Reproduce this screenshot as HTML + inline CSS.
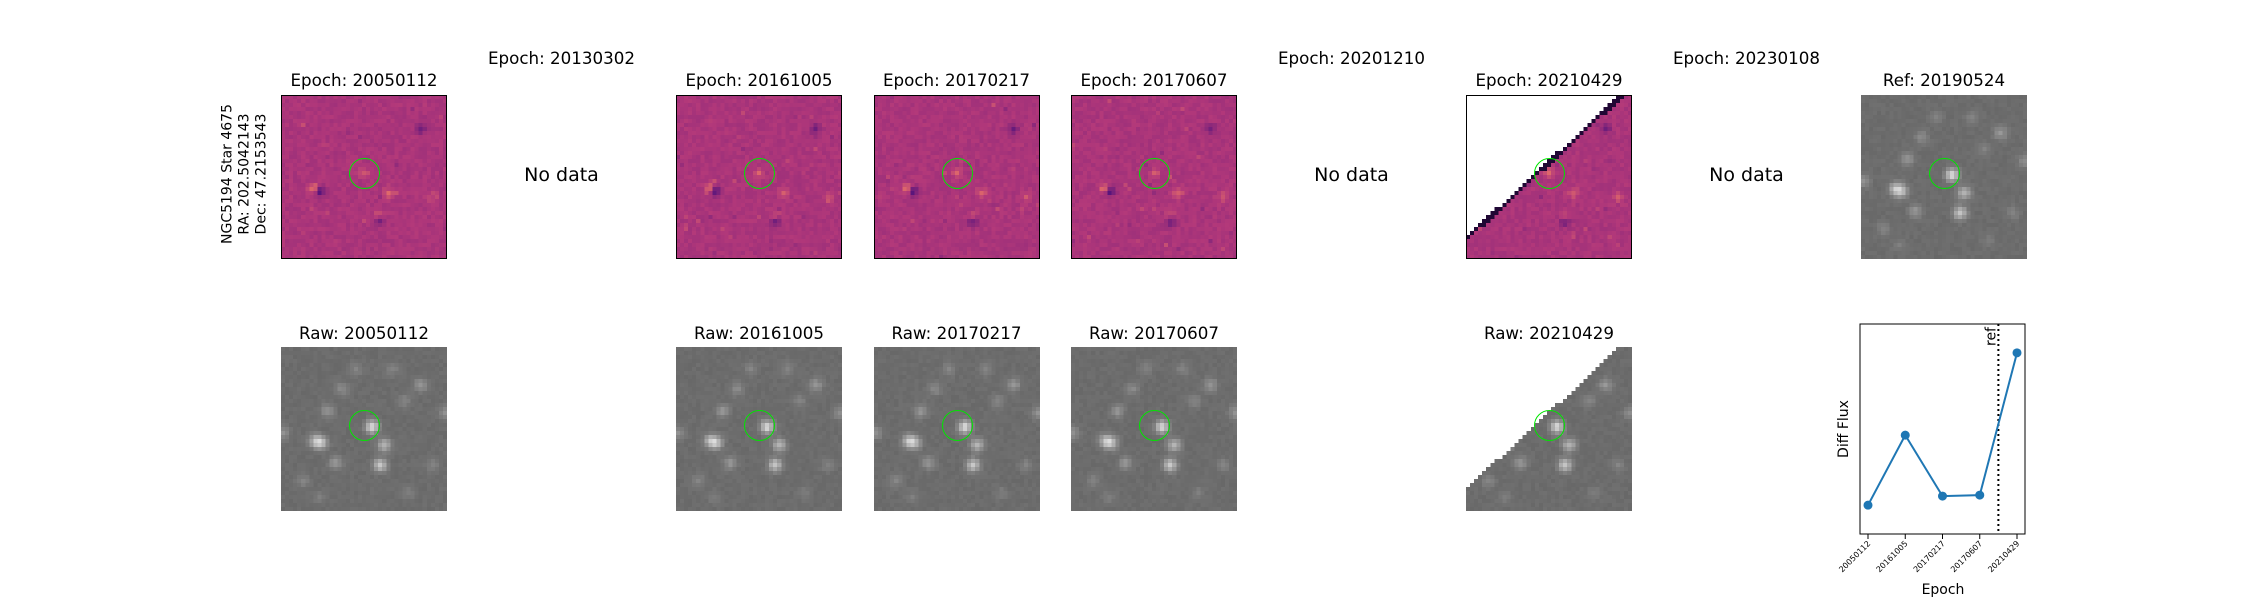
<!DOCTYPE html>
<html><head><meta charset="utf-8">
<style>
html,body{margin:0;padding:0;background:#fff;}
#root{position:relative;width:2250px;height:600px;overflow:hidden;font-family:"DejaVu Sans","Liberation Sans",sans-serif;color:#000;}
.t{position:absolute;font-size:16.7px;line-height:20px;white-space:nowrap;transform:translateX(-50%);}
.nd{position:absolute;font-size:19px;white-space:nowrap;transform:translate(-50%,-50%);}
.img{position:absolute;width:166px;height:164px;}
.img canvas{width:166px;height:164px;image-rendering:pixelated;display:block;}
.frame{position:absolute;left:0;top:0;width:164px;height:162px;border:1px solid #000;}
.circ{position:absolute;left:68px;top:63px;width:31px;height:31px;border:1.6px solid #00e600;border-radius:50%;box-sizing:border-box;}
</style></head>
<body>
<div id="root">
  <div style="position:absolute;left:245px;top:174px;transform:translate(-50%,-50%) rotate(-90deg);font-size:14px;line-height:17px;text-align:center;white-space:nowrap;">NGC5194 Star 4675<br>RA: 202.5042143<br>Dec: 47.2153543</div>
  <svg id="plot" width="2250" height="600" style="position:absolute;left:0;top:0;"></svg>
</div>
<script>
// ---- light curve data ----
const epochs = ["20050112","20161005","20170217","20170607","20210429"];
const diffFlux = [1.2, 4.6, 1.64, 1.69, 8.6];
const yLim = [-0.2, 10];
const refPos = 3.5; // reference epoch position (index units)

const root = document.getElementById('root');
const colX = i => 281 + i*197.5;
const topTitles = ["Epoch: 20050112","Epoch: 20130302","Epoch: 20161005","Epoch: 20170217","Epoch: 20170607","Epoch: 20201210","Epoch: 20210429","Epoch: 20230108","Ref: 20190524"];
const hasData = [true,false,true,true,true,false,true,false,true];
const rawTitles = {0:"Raw: 20050112",2:"Raw: 20161005",3:"Raw: 20170217",4:"Raw: 20170607",6:"Raw: 20210429"};

let seed = 12345;
function rnd(){ seed = (seed*1103515245+12345) & 0x7fffffff; return seed/0x7fffffff; }

const stars = [[22,19.5,0.9],[8,23,0.6],[9.5,23.5,0.6],[25,24,0.6],[24,29,0.75],[11,15.5,0.35],[13,28.5,0.35],[34,9,0.35],[40,16,0.3],[0,21,0.3],[14.5,10,0.25],[30,13,0.2],[5,33,0.2],[37,29,0.2],[27,5,0.2],[18,5,0.2],[31,36,0.15],[9,37,0.15]];

function magma(t){
  const stops=[[0,[0,0,4]],[0.25,[80,18,123]],[0.5,[178,56,122]],[0.7,[251,135,97]],[1,[252,253,191]]];
  t=Math.max(0,Math.min(1,t));
  for(let i=1;i<stops.length;i++){ if(t<=stops[i][0]){const a=stops[i-1],b=stops[i];const f=(t-a[0])/(b[0]-a[0]);return a[1].map((v,k)=>Math.round(v+(b[1][k]-v)*f));}}
  return stops[4][1];
}

function makeImage(x,y,kind,masked,name){
  const d=document.createElement('div'); d.className='img'; d.style.left=x+'px'; d.style.top=y+'px';
  
  
  const c=document.createElement('canvas'); c.width=41; c.height=41; const ctx=c.getContext('2d');
  const im=ctx.createImageData(41,41);
  for(let j=0;j<41;j++)for(let i=0;i<41;i++){
    let r,g,b;
    const masked_px = masked && (j*4 < 138 - i*4*138/148);
    const edge = masked && !masked_px && (j*4 < 138 - i*4*138/148 + 5);
    if(kind==='raw'){
      let v=108+ (rnd()-0.5)*8;
      for(const s of stars){const dd=(i-s[0])**2+(j-s[1])**2; v+= s[2]*120*Math.exp(-dd/2.6);}
      v=Math.min(255,v); r=g=b=Math.round(v);
    } else {
      let t=0.48+(rnd()-0.5)*0.05;
      if(rnd()<0.03) t+= (rnd()-0.5)*0.12;
      const dif=[[8,23,0.25],[9,23.5,-0.3],[26,24,0.12],[24,30,0.12],[24,31,-0.2],[37,25,0.1],[34,8,-0.15],[20,19,0.12]];
      for(const s of dif){const dd=(i-s[0])**2+(j-s[1])**2; t+= s[2]*Math.exp(-dd/1.5);}
      if(edge) t=0.1;
      [r,g,b]=magma(t);
    }
    if(masked_px){r=g=b=255;}
    const k=(j*41+i)*4; im.data[k]=r;im.data[k+1]=g;im.data[k+2]=b;im.data[k+3]=255;
  }
  ctx.putImageData(im,0,0);
  d.appendChild(c);
  if(kind!=='raw'){const f=document.createElement('div'); f.className='frame'; d.appendChild(f);}
  const ci=document.createElement('div'); ci.className='circ';
  
  
  d.appendChild(ci);
  root.appendChild(d);
}

topTitles.forEach((t,i)=>{
  const cx = colX(i)+83;
  const el=document.createElement('div'); el.className='t';
  el.style.left=cx+'px'; el.style.top=(hasData[i]?70:48)+'px'; el.textContent=t;
  
  
  root.appendChild(el);
  if(!hasData[i]){
    const n=document.createElement('div'); n.className='nd'; n.style.left=cx+'px'; n.style.top='175px'; n.textContent='No data';
    
    
    root.appendChild(n);
  } else {
    makeImage(colX(i),95, i===8?'raw':'diff', i===6, i===8?'reference-image':'difference-image');
  }
});
Object.keys(rawTitles).forEach(k=>{
  const i=+k; const cx=colX(i)+83;
  const el=document.createElement('div'); el.className='t'; el.style.left=cx+'px'; el.style.top='323px'; el.textContent=rawTitles[k];
  
  
  root.appendChild(el);
  makeImage(colX(i),347,'raw', i===6, 'raw-image');
});

// ---- plot ----
const svg=document.getElementById('plot'); const NS='http://www.w3.org/2000/svg';
const ax={l:1860,r:2025,t:324,b:534};
const xs = i => ax.l+8 + i*(ax.r-ax.l-16)/(epochs.length-1);
const ys = v => ax.b - (v-yLim[0])/(yLim[1]-yLim[0])*(ax.b-ax.t);
function add(tag,attrs,name,txt){const e=document.createElementNS(NS,tag);for(const k in attrs)e.setAttribute(k,attrs[k]);
  
  
  if(txt!==undefined)e.textContent=txt; svg.appendChild(e); return e;}
add('line',{x1:xs(refPos),x2:xs(refPos),y1:ax.t,y2:ax.b,stroke:'#000','stroke-width':2,'stroke-dasharray':'2,3'},'ref-line');
add('text',{x:0,y:0,'font-size':14,'font-family':'DejaVu Sans, Liberation Sans, sans-serif','text-anchor':'end',transform:`translate(${xs(refPos)-3},${ax.t+3}) rotate(-90)`},'ref-label','ref');
add('polyline',{points:diffFlux.map((v,i)=>xs(i)+','+ys(v)).join(' '),fill:'none',stroke:'#1f77b4','stroke-width':2},'flux-line');
diffFlux.forEach((v,i)=>add('circle',{cx:xs(i),cy:ys(v),r:4.5,fill:'#1f77b4'},'flux-point'));
add('rect',{x:ax.l,y:ax.t,width:ax.r-ax.l,height:ax.b-ax.t,fill:'none',stroke:'#000','stroke-width':1},'plot-frame');
epochs.forEach((e,i)=>{
  add('line',{x1:xs(i),x2:xs(i),y1:ax.b,y2:ax.b+5,stroke:'#000','stroke-width':1},'x-tick');
  add('text',{x:0,y:0,'font-size':8,'font-family':'DejaVu Sans, Liberation Sans, sans-serif','text-anchor':'end',transform:`translate(${xs(i)+3},${ax.b+10}) rotate(-45)`},'x-tick-label',e);
});
add('text',{x:1943,y:594,'font-size':14,'font-family':'DejaVu Sans, Liberation Sans, sans-serif','text-anchor':'middle'},'x-axis-title','Epoch');
add('text',{x:0,y:0,'font-size':14,'font-family':'DejaVu Sans, Liberation Sans, sans-serif','text-anchor':'middle',transform:`translate(1848,429) rotate(-90)`},'y-axis-title','Diff Flux');
</script>
</body></html>
